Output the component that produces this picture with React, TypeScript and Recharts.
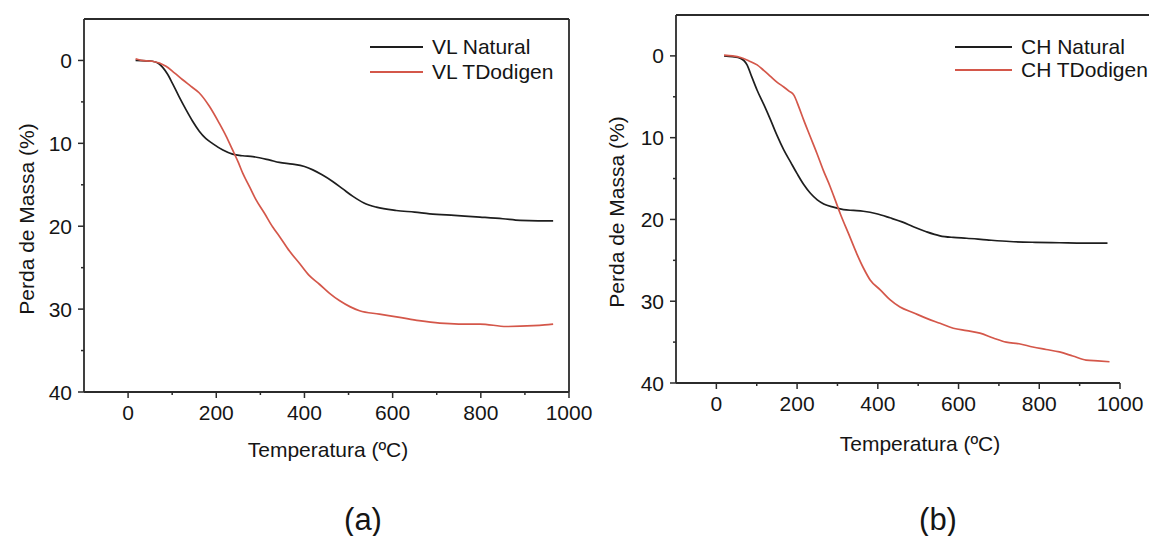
import React from "react"
import { LineChart, Line, XAxis, YAxis, ReferenceLine } from "recharts"

// ---- data ----
const xTicks = [0, 100, 200, 300, 400, 500, 600, 700, 800, 900, 1000]
const yTicks = [0, 5, 10, 15, 20, 25, 30, 35, 40]

const vlNaturalT = [17, 40, 55, 70, 78, 90, 100, 115, 131, 146, 161, 176, 191, 215, 237, 260, 283, 320, 343, 373, 400, 419, 440, 464, 487, 510, 535, 563, 608, 650, 684, 740, 798, 850, 889, 930, 964]
const vlNaturalMass = [0, 0.05, 0.1, 0.4, 0.8, 1.7, 2.7, 4.3, 5.9, 7.3, 8.5, 9.4, 10.0, 10.8, 11.3, 11.5, 11.6, 12.0, 12.3, 12.5, 12.8, 13.2, 13.8, 14.6, 15.5, 16.4, 17.2, 17.7, 18.1, 18.3, 18.5, 18.7, 18.9, 19.1, 19.3, 19.35, 19.35]

const vlTdodigenT = [17, 30, 55, 86, 105, 123, 142, 161, 184, 207, 222, 237, 250, 260, 275, 290, 310, 328, 343, 366, 389, 410, 434, 457, 480, 503, 525, 570, 616, 660, 707, 750, 798, 858, 919, 945, 964]
const vlTdodigenMass = [-0.2, 0, 0.1, 0.7, 1.5, 2.3, 3.1, 3.9, 5.5, 7.6, 9.1, 10.8, 12.3, 13.6, 15.2, 16.8, 18.5, 20.1, 21.2, 23.0, 24.5, 25.9, 27.0, 28.1, 29.0, 29.7, 30.2, 30.6, 31.0, 31.4, 31.7, 31.8, 31.8, 32.1, 32.0, 31.9, 31.8]

const chNaturalT = [19, 40, 60, 76, 88, 101, 118, 134, 150, 167, 184, 200, 216, 233, 250, 266, 290, 315, 340, 364, 397, 430, 460, 488, 520, 554, 587, 620, 670, 727, 790, 850, 910, 969]
const chNaturalMass = [0, 0.1, 0.3, 1.1, 2.6, 4.2, 6.0, 7.8, 9.7, 11.5, 13.0, 14.4, 15.7, 16.8, 17.6, 18.1, 18.5, 18.8, 18.9, 19.0, 19.3, 19.8, 20.3, 20.9, 21.5, 22.0, 22.2, 22.3, 22.5, 22.7, 22.8, 22.85, 22.9, 22.9]

const chTdodigenT = [19, 40, 60, 80, 101, 118, 134, 150, 167, 180, 192, 204, 216, 232, 249, 265, 282, 295, 307, 328, 348, 365, 381, 406, 430, 455, 488, 521, 554, 587, 620, 653, 686, 718, 750, 784, 817, 850, 883, 916, 945, 974]
const chTdodigenMass = [-0.1, 0, 0.2, 0.6, 1.1, 1.8, 2.5, 3.2, 3.8, 4.3, 4.8, 6.2, 7.8, 9.8, 11.9, 14.0, 16.0, 17.7, 19.3, 21.8, 24.2, 26.0, 27.4, 28.6, 29.8, 30.7, 31.4, 32.1, 32.7, 33.3, 33.6, 33.9, 34.5, 35.0, 35.2, 35.6, 35.9, 36.2, 36.7, 37.2, 37.3, 37.4]

const toPoints = (t: number[], m: number[]) => t.map((v, i) => ({ t: v, m: m[i] }))

const FONT = '"Liberation Sans", Arial, sans-serif'
const AXIS = "#2b2b2b"
const BLACK = "#1e1e1e"
const RED = "#d4574a"
const TEXT = "#151515"

const XTick = ({ x, y, payload }: any) => {
  const major = payload.value % 200 === 0
  return (
    <g>
      <line x1={x} y1={y} x2={x} y2={y + (major ? 6 : 3)} stroke={AXIS} strokeWidth={1.5} />
      {major && (
        <text x={x} y={y + 28} textAnchor="middle" fontSize={21} fontFamily={FONT} fill={TEXT}>
          {payload.value}
        </text>
      )}
    </g>
  )
}

const YTick = ({ x, y, payload }: any) => {
  const major = payload.value % 10 === 0
  return (
    <g>
      <line x1={x - (major ? 6 : 3)} y1={y} x2={x} y2={y} stroke={AXIS} strokeWidth={1.5} />
      {major && (
        <text x={x - 12} y={y} dy="0.36em" textAnchor="end" fontSize={21} fontFamily={FONT} fill={TEXT}>
          {payload.value}
        </text>
      )}
    </g>
  )
}

interface PanelProps {
  left: number
  width: number
  height: number
  margin: { top: number; right: number; bottom: number; left: number }
  natural: { t: number; m: number }[]
  treated: { t: number; m: number }[]
  rightBorder: boolean
}

function Panel({ left, width, height, margin, natural, treated, rightBorder }: PanelProps) {
  return (
    <div style={{ position: "absolute", left, top: 0 }}>
      <LineChart width={width} height={height} margin={margin}>
        <XAxis
          type="number"
          dataKey="t"
          domain={[-100, 1000]}
          ticks={xTicks}
          interval={0}
          height={1}
          tickSize={0}
          tickMargin={0}
          tick={<XTick />}
          axisLine={{ stroke: AXIS, strokeWidth: 1.8 }}
          allowDataOverflow
        />
        <YAxis
          type="number"
          dataKey="m"
          domain={[-5, 40]}
          reversed
          ticks={yTicks}
          interval={0}
          width={1}
          tickSize={0}
          tickMargin={0}
          tick={<YTick />}
          axisLine={{ stroke: AXIS, strokeWidth: 1.8 }}
          allowDataOverflow
        />
        <ReferenceLine y={-5} stroke={AXIS} strokeWidth={1.8} />
        {rightBorder && <ReferenceLine x={1000} stroke={AXIS} strokeWidth={1.8} />}
        <Line data={natural} dataKey="m" type="monotone" stroke={BLACK} strokeWidth={1.7} dot={false} isAnimationActive={false} />
        <Line data={treated} dataKey="m" type="monotone" stroke={RED} strokeWidth={1.7} dot={false} isAnimationActive={false} />
      </LineChart>
    </div>
  )
}

const textStyle: React.CSSProperties = {
  position: "absolute",
  fontFamily: FONT,
  color: TEXT,
  whiteSpace: "nowrap",
  transform: "translate(-50%, -50%)",
}

function LegendRow({ x, y, len, color, label }: { x: number; y: number; len: number; color: string; label: string }) {
  return (
    <>
      <div style={{ position: "absolute", left: x, top: y - 1, width: len, height: 1.7, background: color }} />
      <div style={{ position: "absolute", left: x + len + 9, top: y - 13, fontFamily: FONT, fontSize: 21, lineHeight: "26px", color: TEXT, whiteSpace: "nowrap" }}>
        {label}
      </div>
    </>
  )
}

export default function App() {
  return (
    <div style={{ position: "absolute", left: 0, top: 0, width: 1149, height: 536, background: "#fff", overflow: "hidden" }}>
      <Panel
        left={0}
        width={600}
        height={440}
        margin={{ top: 19, left: 83, right: 31, bottom: 47 }}
        natural={toPoints(vlNaturalT, vlNaturalMass)}
        treated={toPoints(vlTdodigenT, vlTdodigenMass)}
        rightBorder
      />
      <Panel
        left={590}
        width={560}
        height={440}
        margin={{ top: 15, left: 85, right: 30, bottom: 56 }}
        natural={toPoints(chNaturalT, chNaturalMass)}
        treated={toPoints(chTdodigenT, chTdodigenMass)}
        rightBorder={false}
      />
      {/* top frame line of panel (b) runs to the page edge */}
      <div style={{ position: "absolute", left: 1120, top: 14, width: 29, height: 1.8, background: AXIS }} />

      {/* axis titles */}
      <div style={{ ...textStyle, left: 27, top: 219, fontSize: 21, transform: "translate(-50%, -50%) rotate(-90deg)" }}>Perda de Massa (%)</div>
      <div style={{ ...textStyle, left: 617, top: 212, fontSize: 21, transform: "translate(-50%, -50%) rotate(-90deg)" }}>Perda de Massa (%)</div>
      <div style={{ ...textStyle, left: 328, top: 450, fontSize: 21 }}>Temperatura (ºC)</div>
      <div style={{ ...textStyle, left: 920, top: 444, fontSize: 21 }}>Temperatura (ºC)</div>

      {/* legends */}
      <LegendRow x={370} y={47} len={53} color={BLACK} label="VL Natural" />
      <LegendRow x={370} y={72} len={53} color={RED} label="VL TDodigen" />
      <LegendRow x={955} y={47} len={57} color={BLACK} label="CH Natural" />
      <LegendRow x={955} y={70} len={57} color={RED} label="CH TDodigen" />

      {/* panel captions */}
      <div style={{ ...textStyle, left: 363, top: 520, fontSize: 31 }}>(a)</div>
      <div style={{ ...textStyle, left: 938, top: 520, fontSize: 31 }}>(b)</div>
    </div>
  )
}
